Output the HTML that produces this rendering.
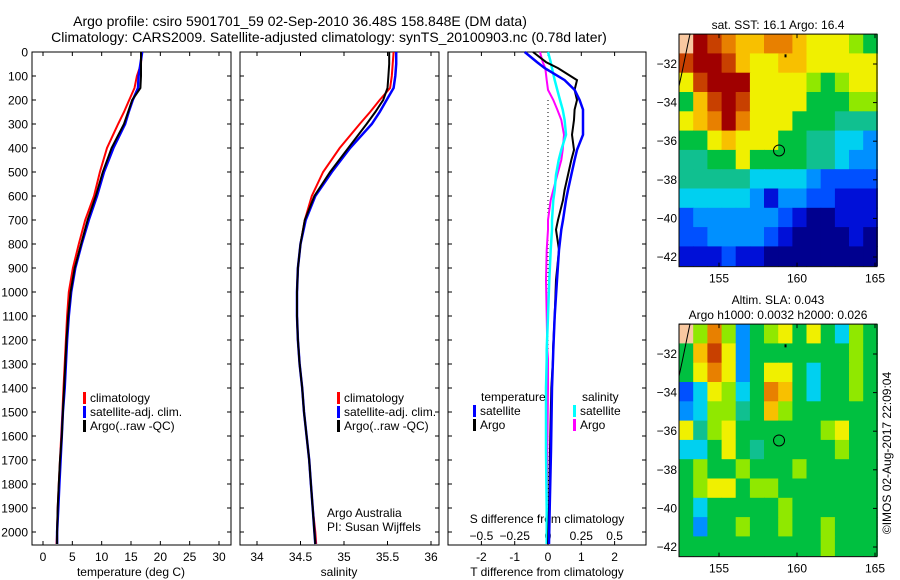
<!DOCTYPE html>
<html><head><meta charset="utf-8"><style>
body{margin:0;background:#fff;}
svg{display:block;font-family:"Liberation Sans",sans-serif;}
</style></head><body>
<svg id="chart" width="900" height="580" viewBox="0 0 900 580" xmlns="http://www.w3.org/2000/svg">
<rect width="900" height="580" fill="#fff"/>
<text x="300" y="26" font-size="14" text-anchor="middle">Argo profile: csiro 5901701_59 02-Sep-2010 36.48S 158.848E (DM data)</text>
<text x="329" y="42" font-size="14" text-anchor="middle">Climatology: CARS2009. Satellite-adjusted climatology: synTS_20100903.nc (0.78d later)</text>
<g id="g"></g>
</svg>
<script>
// ---- Data ----
const tDepth = [0,50,100,150,200,250,300,400,500,600,700,800,900,1000,1100,1200,1300,1400,1500,1600,1700,1800,1900,2000,2050];
const tClim  = [16.8,16.7,16.0,15.6,14.7,13.8,12.8,10.9,9.7,8.7,7.2,6.1,5.1,4.4,4.1,3.9,3.7,3.5,3.3,3.1,2.9,2.7,2.5,2.4,2.3];
const tSat   = [16.9,16.6,16.3,16.2,15.3,14.6,14.0,12.0,10.4,9.2,7.8,6.6,5.5,4.8,4.4,4.1,3.9,3.7,3.4,3.2,3.0,2.8,2.6,2.4,2.4];
const tArgo  = [16.7,16.7,16.7,16.6,15.2,14.5,13.8,11.7,10.2,9.0,7.6,6.5,5.4,4.7,4.3,4.0,3.8,3.6,3.4,3.2,2.9,2.7,2.5,2.4,2.4];
const sClim  = [35.57,35.56,35.55,35.53,35.41,35.30,35.18,34.95,34.76,34.63,34.55,34.50,34.47,34.46,34.46,34.47,34.49,34.52,34.54,34.57,34.60,34.62,34.64,34.67,34.68];
const sSat   = [35.60,35.60,35.59,35.57,35.49,35.41,35.32,35.07,34.86,34.67,34.56,34.50,34.47,34.46,34.46,34.47,34.49,34.52,34.54,34.57,34.60,34.62,34.64,34.66,34.67];
const sArgo  = [35.52,35.52,35.51,35.50,35.45,35.36,35.26,35.05,34.84,34.66,34.55,34.50,34.47,34.46,34.46,34.47,34.49,34.52,34.54,34.57,34.60,34.62,34.64,34.66,34.67];
const dDepth = [0,42,67,117,158,200,240,283,345,408,450,512,575,617,700,740,825,950,1100,1240,1280,1400,1660,1900,2050];
const dTSat  = [-0.7,-0.33,-0.1,0.5,0.8,0.95,1.05,1.05,1.05,0.87,0.8,0.7,0.6,0.54,0.45,0.4,0.33,0.27,0.2,0.16,0.15,0.12,0.09,0.05,0.03];
const dTArgo = [-0.45,-0.06,0.3,0.87,0.8,0.87,0.8,0.78,0.72,0.78,0.7,0.6,0.5,0.45,0.3,0.24,0.33,0.24,0.2,0.15,0.15,0.1,0.06,0.03,0.0];
const dSSat  = [0.0,0.02,0.03,0.05,0.07,0.09,0.11,0.125,0.135,0.1,0.08,0.06,0.05,0.04,0.03,0.03,0.02,0.01,0.0,-0.01,-0.01,-0.015,-0.015,-0.01,-0.01];
const dSArgo = [-0.06,-0.04,-0.02,-0.01,0.0,0.04,0.07,0.1,0.12,0.11,0.1,0.07,0.04,0.02,0.0,0.0,-0.01,-0.015,-0.01,-0.005,0.0,0.0,-0.005,-0.01,-0.005];
const depthTicks = [0,100,200,300,400,500,600,700,800,900,1000,1100,1200,1300,1400,1500,1600,1700,1800,1900,2000];
const tempTicks = [0,5,10,15,20,25,30];
const salTicks = [34,34.5,35,35.5,36];
const tdTicks = [-2,-1,0,1,2];
const sdTicks = [-0.5,-0.25,0,0.25,0.5];
const lonTicks = [155,160,165];
const latTicks = [-32,-34,-36,-38,-40,-42];
const sstGrid = [
"LCBA99AA988876",
"BCCB9889988888",
"8BCCC888876788",
"69BCB888866677",
"89ACA888666555",
"66898886655443",
"55668666655433",
"55555444432222",
"44444313322111",
"23333332100111",
"22333321000010",
"11121100000000"];
const slaGrid = [
"L7A73678686476",
"69B83666666676",
"68A83688646676",
"248746A9646676",
"34775697666666",
"85786666667866",
"44686566666766",
"67667666766666",
"67886776666666",
"64666667666666",
"63667667667666",
"66666666667666"];
const palette = {"0":"#00008f","1":"#0010d8","2":"#0050ff","3":"#0090ff","4":"#00d0f0","5":"#10c090","6":"#00c040","7":"#90e800","8":"#f0f000","9":"#f8c000","A":"#e88000","B":"#c84000","C":"#a00000","L":"#f8c8a0"};
const argoLon = 158.848, argoLat = -36.48;

// ---- helpers ----
const NS="http://www.w3.org/2000/svg";
const G=document.getElementById('g');
function el(tag,attrs,parent){const e=document.createElementNS(NS,tag);for(const k in attrs)e.setAttribute(k,attrs[k]);(parent||G).appendChild(e);return e;}
const yD = d => 52 + d*0.24;
const panels = [{x0:32,x1:231},{x0:240,x1:439},{x0:448,x1:646}];
const xT = v => 43 + v*5.867;
const xS = v => 257 + (v-34)*87;
const xTD = v => 548 + v*33.3;
const xSD = v => 548 + v*133.2;

function series(depths, vals, fx, color, name, w){
  const p = el('polyline',{points:depths.map((d,i)=>fx(vals[i]).toFixed(1)+','+yD(d).toFixed(1)).join(' '),fill:'none',stroke:color,'stroke-width':w||2});
  
  
}
function frame(p,i){
  const r=el('rect',{x:p.x0,y:52,width:p.x1-p.x0,height:493,fill:'none',stroke:'#000','stroke-width':1});
  
  
}
panels.forEach(frame);
depthTicks.forEach(d=>{
  const t=el('text',{x:28,y:yD(d)+4.5,'font-size':12,'text-anchor':'end'});t.textContent=d;
  
  
  panels.forEach(p=>{el('line',{x1:p.x0,x2:p.x0+4,y1:yD(d),y2:yD(d),stroke:'#000'});el('line',{x1:p.x1-4,x2:p.x1,y1:yD(d),y2:yD(d),stroke:'#000'});});
});
function xAxis(ticks,fx,fmt,ty){
  ticks.forEach(v=>{
    const x=fx(v);
    el('line',{x1:x,x2:x,y1:545,y2:541,stroke:'#000'});
    el('line',{x1:x,x2:x,y1:52,y2:56,stroke:'#000'});
    const t=el('text',{x:x,y:ty,'font-size':12,'text-anchor':'middle'});t.textContent=fmt(v);
    
    
  });
}
xAxis(tempTicks,xT,v=>v,561);
xAxis(salTicks,xS,v=>v,561);
xAxis(tdTicks,xTD,v=>v,561);
sdTicks.forEach(v=>{
  const t=el('text',{x:xSD(v),y:540,'font-size':12,'text-anchor':'middle'});t.textContent=(v<0?'\u2212':'')+Math.abs(v);
  
  
});
function label(x,y,txt,name,anchor,size){const t=el('text',{x:x,y:y,'font-size':size||12,'text-anchor':anchor||'middle'});t.textContent=txt;
  
  
  return t;}
label(131,576,'temperature (deg C)','x-axis-title-temperature');
label(339,576,'salinity','x-axis-title-salinity');
label(547,576,'T difference from climatology','x-axis-title-t-diff');
label(547,523,'S difference from climatology','s-diff-axis-title');
el('line',{x1:548,x2:548,y1:100,y2:545,stroke:'#000','stroke-dasharray':'1,3'});
series(tDepth,tClim,xT,'#f00','temp-climatology-line');
series(tDepth,tSat,xT,'#00f','temp-satellite-line',2.5);
series(tDepth,tArgo,xT,'#000','temp-argo-line');
series(tDepth,sClim,xS,'#f00','sal-climatology-line');
series(tDepth,sSat,xS,'#00f','sal-satellite-line',2.5);
series(tDepth,sArgo,xS,'#000','sal-argo-line');
series(dDepth,dSArgo,xSD,'#f0f','s-diff-argo-line');
series(dDepth,dSSat,xSD,'#0ff','s-diff-satellite-line',2.5);
series(dDepth,dTArgo,xTD,'#000','t-diff-argo-line');
series(dDepth,dTSat,xTD,'#00f','t-diff-satellite-line',2.5);
function leg(x,y,color,txt,name){
  el('rect',{x:x,y:y-10,width:3,height:12,fill:color});
  label(x+7,y,txt,name,'start');
}
[83,337].forEach(lx=>{
  leg(lx,402,'#f00','climatology','legend-climatology');
  leg(lx,416,'#00f','satellite-adj. clim.','legend-satellite-adj');
  leg(lx,430,'#000','Argo(..raw -QC)','legend-argo');
});
label(481,401,'temperature','legend-temperature-header','start');
leg(473,415,'#00f','satellite','legend-t-satellite');
leg(473,429,'#000','Argo','legend-t-argo');
label(582,401,'salinity','legend-salinity-header','start');
leg(573,415,'#0ff','satellite','legend-s-satellite');
leg(573,429,'#f0f','Argo','legend-s-argo');
label(327,517,'Argo Australia','credit-argo-australia','start');
label(327,531,'PI: Susan Wijffels','credit-pi','start');

// ---- maps ----
const mx0=679,mx1=877;
const mLon = v => 719 + (v-155)*15.6;
function drawMap(grid,top,title1,title2,name){
  const latY = v => top+30 + (-32 - v)*19.3;
  const lon0=152.44, lat0=-30.45, dLon=(165.15-152.44)/14, dLat=1.0;
  const g=el('g',{});
  
  
  grid.forEach((row,r)=>{
    for(let c=0;c<14;c++){
      const x=mLon(lon0+c*dLon), y=latY(lat0-r*dLat);
      const cell=el('rect',{x:x.toFixed(1),y:y.toFixed(1),width:(mLon(lon0+(c+1)*dLon)-x+0.5).toFixed(1),height:(latY(lat0-(r+1)*dLat)-y+0.5).toFixed(1),fill:palette[row[c]]||'#00c040'},g);
      
      
    }
  });
  const yb=latY(-42.5), yt=latY(-30.45);
  el('path',{d:`M${mx0},${yt} L690,${yt} C686,${yt+18} 684,${yt+30} 679,${yt+52}`,fill:'none',stroke:'#000','stroke-width':1});
  el('rect',{x:mx0,y:yt,width:mx1-mx0,height:yb-yt,fill:'none',stroke:'#000'});
  const circ=el('circle',{cx:mLon(argoLon),cy:latY(argoLat),r:5.5,fill:'none',stroke:'#000','stroke-width':1});
  
  
  el('rect',{x:mLon(159.2),y:latY(-31.5),width:2,height:3,fill:'#000'});
  lonTicks.forEach(v=>{
    el('line',{x1:mLon(v),x2:mLon(v),y1:yt,y2:yt+4,stroke:'#000'});
    el('line',{x1:mLon(v),x2:mLon(v),y1:yb,y2:yb-4,stroke:'#000'});
    label(mLon(v),yb+16,v,'map-lon-tick-label');
  });
  latTicks.forEach(v=>{
    el('line',{x1:mx1,x2:mx1-4,y1:latY(v),y2:latY(v),stroke:'#000'});
    label(677,latY(v)+4,'\u2212'+Math.abs(v),'map-lat-tick-label','end');
  });
  if(title1) label(778,top-5-(title2?15:0),title1,'map-title');
  if(title2) label(778,top-5,title2,'map-title-2');
}
drawMap(sstGrid,34,'sat. SST: 16.1 Argo: 16.4',null,'sst-map');
drawMap(slaGrid,324,'Altim. SLA: 0.043','Argo h1000: 0.0032 h2000: 0.026','sla-map');
const cp=label(0,0,'\u00a9IMOS 02-Aug-2017 22:09:04','copyright-timestamp','middle');
cp.setAttribute('transform','translate(891,453) rotate(-90)');
</script>
</body></html>
